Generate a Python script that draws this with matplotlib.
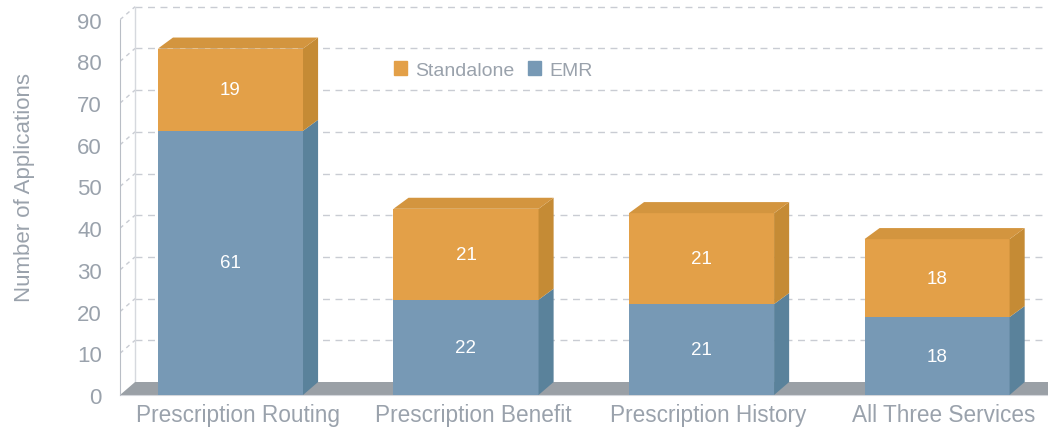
"""
Stacked 3D-style bar chart: applications per e-prescribing service,
split into EMR and Standalone.
"""
import matplotlib
matplotlib.use("Agg")
import matplotlib.pyplot as plt
from matplotlib.patches import Polygon, Patch

# data
categories = ["Prescription Routing", "Prescription Benefit",
              "Prescription History", "All Three Services"]
emr = [61, 22, 21, 18]
standalone = [19, 21, 21, 18]
y_ticks = list(range(0, 100, 10))

# colours
text_grey = "#9aa2ac"
orange = "#e3a048"
orange_top = "#d3953f"
orange_side = "#c58b35"
blue = "#7799b5"
blue_side = "#5a829b"
floor_grey = "#9aa0a6"
grid_grey = "#c9ccd3"

plt.rcParams["font.family"] = ["Liberation Sans", "DejaVu Sans"]

fig = plt.figure(figsize=(10.48, 4.31), dpi=100)
ax = fig.add_axes([120 / 1048, 35 / 431, 928 / 1048, 396 / 431])

# Excel style pseudo-perspective: the walls use a slightly different scale
bar_w = 0.616          # width of bar front face (category units)
dx = 0.064             # depth shift in x
dd = 2.55              # depth shift of bar tops in y (data units)
wall_off = 3.0         # back wall zero, in data units
wall_k = 0.963         # back wall / front axis scale vs bar scale
x_left = -0.469
x_right = 3.6

ax.set_xlim(x_left, 3.471)
ax.set_ylim(0, 91.45)

# back wall + side wall gridlines
for v in y_ticks:
    yb = wall_off + wall_k * v
    if v > 0:
        ax.plot([x_left + dx, x_right], [yb, yb], color=grid_grey, lw=1,
                ls=(0, (5, 4)), zorder=1, clip_on=False)
        ax.plot([x_left, x_left + dx], [wall_k * v, yb], color=grid_grey,
                lw=1, ls=(0, (3, 3)), zorder=1)
ax.plot([x_left + dx, x_left + dx], [wall_off, wall_off + wall_k * 90],
        color="#d6d9de", lw=1, zorder=1)

# floor
ax.add_patch(Polygon([(x_left, 0), (x_left + dx, wall_off),
                      (x_right, wall_off), (x_right, 0)],
                     closed=True, color=floor_grey, lw=0, zorder=2,
                     clip_on=False))

# bars
for i, (e, s) in enumerate(zip(emr, standalone)):
    x0 = i - bar_w / 2
    x1 = i + bar_w / 2
    tot = e + s
    # blue part
    ax.add_patch(Polygon([(x0, 0), (x1, 0), (x1, e), (x0, e)],
                         color=blue, lw=0, zorder=3))
    ax.add_patch(Polygon([(x1, 0), (x1 + dx, wall_off), (x1 + dx, e + dd),
                          (x1, e)], color=blue_side, lw=0, zorder=3))
    # orange part
    ax.add_patch(Polygon([(x0, e), (x1, e), (x1, tot), (x0, tot)],
                         color=orange, lw=0, zorder=3))
    ax.add_patch(Polygon([(x1, e), (x1 + dx, e + dd), (x1 + dx, tot + dd),
                          (x1, tot)], color=orange_side, lw=0, zorder=3))
    ax.add_patch(Polygon([(x0, tot), (x0 + dx, tot + dd),
                          (x1 + dx, tot + dd), (x1, tot)],
                         color=orange_top, lw=0, zorder=3))
    ax.text(i, e / 2, str(e), color="white", fontsize=13.5,
            ha="center", va="center", zorder=4)
    ax.text(i, e + s / 2, str(s), color="white", fontsize=13.5,
            ha="center", va="center", zorder=4)

# axes styling
ax.set_yticks([wall_k * v for v in y_ticks])
ax.set_yticklabels([str(v) for v in y_ticks])
ax.set_xticks([i + 0.03 for i in range(len(categories))])
ax.set_xticklabels(categories)
ax.tick_params(axis="y", length=0, pad=13, labelsize=16, colors=text_grey)
ax.tick_params(axis="x", length=0, pad=6, labelsize=16.3, colors=text_grey)
for side in ["top", "right"]:
    ax.spines[side].set_visible(False)
ax.spines["left"].set_color("#b9bec6")
ax.spines["left"].set_bounds(0, wall_k * 90)
ax.spines["bottom"].set_color("#d3d6db")
ax.spines["left"].set_zorder(5)

ax.set_ylabel("Number of Applications", fontsize=16, color=text_grey)
ax.yaxis.set_label_coords(-0.092, (396 - 188) / 396)

handles = [Patch(color=orange, label="Standalone"),
           Patch(color=blue, label="EMR")]
leg = ax.legend(handles=handles, ncol=2, frameon=False, fontsize=14,
                loc="center left", bbox_to_anchor=(376 / 1048, 1 - 71 / 431),
                bbox_transform=fig.transFigure, handlelength=0.7,
                handleheight=0.7, handletextpad=0.4, columnspacing=0.7)
for t in leg.get_texts():
    t.set_color(text_grey)

fig.savefig("out.png", dpi=100)
